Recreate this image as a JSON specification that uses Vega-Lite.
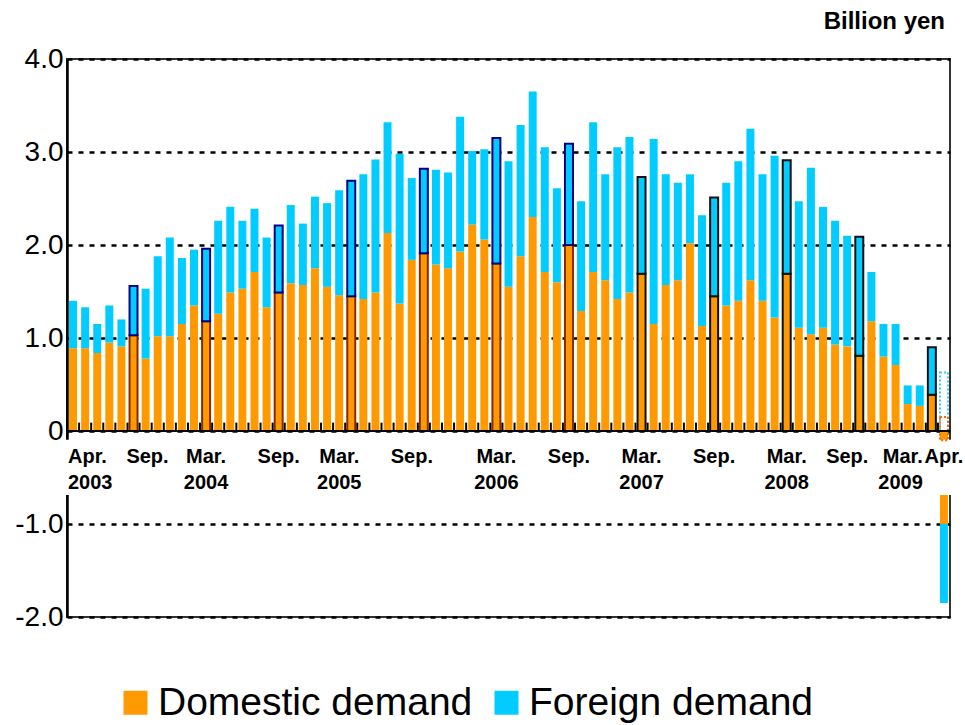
{
"$schema": "https://vega.github.io/schema/vega-lite/v6.json",
"autosize": "none",
"width": 883,
"height": 558,
"padding": {"left": 67, "top": 59, "right": 15, "bottom": 108},
"title": {"text": "Billion yen", "anchor": "end", "frame": "group", "fontSize": 24, "fontWeight": "bold", "font": "Liberation Sans", "baseline": "alphabetic", "offset": -8, "dx": -5, "color": "black"},
"config": {"font": "Liberation Sans", "view": {"stroke": "#333333", "strokeWidth": 2}},
"datasets": {
"main": [
{"month":"2003-04","series":"Domestic demand","value":0.89},{"month":"2003-04","series":"Foreign demand","value":0.51},
{"month":"2003-05","series":"Domestic demand","value":0.89},{"month":"2003-05","series":"Foreign demand","value":0.44},
{"month":"2003-06","series":"Domestic demand","value":0.84},{"month":"2003-06","series":"Foreign demand","value":0.31},
{"month":"2003-07","series":"Domestic demand","value":0.95},{"month":"2003-07","series":"Foreign demand","value":0.40},
{"month":"2003-08","series":"Domestic demand","value":0.91},{"month":"2003-08","series":"Foreign demand","value":0.29},
{"month":"2003-09","series":"Domestic demand","value":1.03},{"month":"2003-09","series":"Foreign demand","value":0.53},
{"month":"2003-10","series":"Domestic demand","value":0.78},{"month":"2003-10","series":"Foreign demand","value":0.75},
{"month":"2003-11","series":"Domestic demand","value":1.02},{"month":"2003-11","series":"Foreign demand","value":0.86},
{"month":"2003-12","series":"Domestic demand","value":1.02},{"month":"2003-12","series":"Foreign demand","value":1.06},
{"month":"2004-01","series":"Domestic demand","value":1.15},{"month":"2004-01","series":"Foreign demand","value":0.71},
{"month":"2004-02","series":"Domestic demand","value":1.35},{"month":"2004-02","series":"Foreign demand","value":0.60},
{"month":"2004-03","series":"Domestic demand","value":1.18},{"month":"2004-03","series":"Foreign demand","value":0.78},
{"month":"2004-04","series":"Domestic demand","value":1.26},{"month":"2004-04","series":"Foreign demand","value":1.00},
{"month":"2004-05","series":"Domestic demand","value":1.49},{"month":"2004-05","series":"Foreign demand","value":0.92},
{"month":"2004-06","series":"Domestic demand","value":1.53},{"month":"2004-06","series":"Foreign demand","value":0.73},
{"month":"2004-07","series":"Domestic demand","value":1.71},{"month":"2004-07","series":"Foreign demand","value":0.68},
{"month":"2004-08","series":"Domestic demand","value":1.33},{"month":"2004-08","series":"Foreign demand","value":0.75},
{"month":"2004-09","series":"Domestic demand","value":1.49},{"month":"2004-09","series":"Foreign demand","value":0.72},
{"month":"2004-10","series":"Domestic demand","value":1.59},{"month":"2004-10","series":"Foreign demand","value":0.84},
{"month":"2004-11","series":"Domestic demand","value":1.57},{"month":"2004-11","series":"Foreign demand","value":0.66},
{"month":"2004-12","series":"Domestic demand","value":1.75},{"month":"2004-12","series":"Foreign demand","value":0.77},
{"month":"2005-01","series":"Domestic demand","value":1.55},{"month":"2005-01","series":"Foreign demand","value":0.90},
{"month":"2005-02","series":"Domestic demand","value":1.46},{"month":"2005-02","series":"Foreign demand","value":1.13},
{"month":"2005-03","series":"Domestic demand","value":1.45},{"month":"2005-03","series":"Foreign demand","value":1.24},
{"month":"2005-04","series":"Domestic demand","value":1.42},{"month":"2005-04","series":"Foreign demand","value":1.34},
{"month":"2005-05","series":"Domestic demand","value":1.49},{"month":"2005-05","series":"Foreign demand","value":1.43},
{"month":"2005-06","series":"Domestic demand","value":2.13},{"month":"2005-06","series":"Foreign demand","value":1.19},
{"month":"2005-07","series":"Domestic demand","value":1.37},{"month":"2005-07","series":"Foreign demand","value":1.61},
{"month":"2005-08","series":"Domestic demand","value":1.84},{"month":"2005-08","series":"Foreign demand","value":0.88},
{"month":"2005-09","series":"Domestic demand","value":1.91},{"month":"2005-09","series":"Foreign demand","value":0.91},
{"month":"2005-10","series":"Domestic demand","value":1.79},{"month":"2005-10","series":"Foreign demand","value":1.02},
{"month":"2005-11","series":"Domestic demand","value":1.75},{"month":"2005-11","series":"Foreign demand","value":1.03},
{"month":"2005-12","series":"Domestic demand","value":1.93},{"month":"2005-12","series":"Foreign demand","value":1.45},
{"month":"2006-01","series":"Domestic demand","value":2.22},{"month":"2006-01","series":"Foreign demand","value":0.79},
{"month":"2006-02","series":"Domestic demand","value":2.06},{"month":"2006-02","series":"Foreign demand","value":0.97},
{"month":"2006-03","series":"Domestic demand","value":1.80},{"month":"2006-03","series":"Foreign demand","value":1.35},
{"month":"2006-04","series":"Domestic demand","value":1.55},{"month":"2006-04","series":"Foreign demand","value":1.35},
{"month":"2006-05","series":"Domestic demand","value":1.88},{"month":"2006-05","series":"Foreign demand","value":1.41},
{"month":"2006-06","series":"Domestic demand","value":2.30},{"month":"2006-06","series":"Foreign demand","value":1.35},
{"month":"2006-07","series":"Domestic demand","value":1.71},{"month":"2006-07","series":"Foreign demand","value":1.34},
{"month":"2006-08","series":"Domestic demand","value":1.60},{"month":"2006-08","series":"Foreign demand","value":1.01},
{"month":"2006-09","series":"Domestic demand","value":2.00},{"month":"2006-09","series":"Foreign demand","value":1.09},
{"month":"2006-10","series":"Domestic demand","value":1.29},{"month":"2006-10","series":"Foreign demand","value":1.18},
{"month":"2006-11","series":"Domestic demand","value":1.71},{"month":"2006-11","series":"Foreign demand","value":1.61},
{"month":"2006-12","series":"Domestic demand","value":1.62},{"month":"2006-12","series":"Foreign demand","value":1.14},
{"month":"2007-01","series":"Domestic demand","value":1.42},{"month":"2007-01","series":"Foreign demand","value":1.63},
{"month":"2007-02","series":"Domestic demand","value":1.49},{"month":"2007-02","series":"Foreign demand","value":1.67},
{"month":"2007-03","series":"Domestic demand","value":1.69},{"month":"2007-03","series":"Foreign demand","value":1.04},
{"month":"2007-04","series":"Domestic demand","value":1.15},{"month":"2007-04","series":"Foreign demand","value":1.99},
{"month":"2007-05","series":"Domestic demand","value":1.57},{"month":"2007-05","series":"Foreign demand","value":1.19},
{"month":"2007-06","series":"Domestic demand","value":1.62},{"month":"2007-06","series":"Foreign demand","value":1.05},
{"month":"2007-07","series":"Domestic demand","value":2.02},{"month":"2007-07","series":"Foreign demand","value":0.74},
{"month":"2007-08","series":"Domestic demand","value":1.13},{"month":"2007-08","series":"Foreign demand","value":1.19},
{"month":"2007-09","series":"Domestic demand","value":1.45},{"month":"2007-09","series":"Foreign demand","value":1.06},
{"month":"2007-10","series":"Domestic demand","value":1.35},{"month":"2007-10","series":"Foreign demand","value":1.32},
{"month":"2007-11","series":"Domestic demand","value":1.40},{"month":"2007-11","series":"Foreign demand","value":1.50},
{"month":"2007-12","series":"Domestic demand","value":1.62},{"month":"2007-12","series":"Foreign demand","value":1.63},
{"month":"2008-01","series":"Domestic demand","value":1.40},{"month":"2008-01","series":"Foreign demand","value":1.36},
{"month":"2008-02","series":"Domestic demand","value":1.22},{"month":"2008-02","series":"Foreign demand","value":1.74},
{"month":"2008-03","series":"Domestic demand","value":1.69},{"month":"2008-03","series":"Foreign demand","value":1.22},
{"month":"2008-04","series":"Domestic demand","value":1.11},{"month":"2008-04","series":"Foreign demand","value":1.36},
{"month":"2008-05","series":"Domestic demand","value":1.04},{"month":"2008-05","series":"Foreign demand","value":1.79},
{"month":"2008-06","series":"Domestic demand","value":1.11},{"month":"2008-06","series":"Foreign demand","value":1.30},
{"month":"2008-07","series":"Domestic demand","value":0.93},{"month":"2008-07","series":"Foreign demand","value":1.33},
{"month":"2008-08","series":"Domestic demand","value":0.91},{"month":"2008-08","series":"Foreign demand","value":1.19},
{"month":"2008-09","series":"Domestic demand","value":0.81},{"month":"2008-09","series":"Foreign demand","value":1.28},
{"month":"2008-10","series":"Domestic demand","value":1.18},{"month":"2008-10","series":"Foreign demand","value":0.53},
{"month":"2008-11","series":"Domestic demand","value":0.80},{"month":"2008-11","series":"Foreign demand","value":0.35},
{"month":"2008-12","series":"Domestic demand","value":0.71},{"month":"2008-12","series":"Foreign demand","value":0.44},
{"month":"2009-01","series":"Domestic demand","value":0.29},{"month":"2009-01","series":"Foreign demand","value":0.20},
{"month":"2009-02","series":"Domestic demand","value":0.27},{"month":"2009-02","series":"Foreign demand","value":0.22},
{"month":"2009-03","series":"Domestic demand","value":0.39},{"month":"2009-03","series":"Foreign demand","value":0.51},
{"month":"2009-04","series":"Domestic demand","value":-1.00},{"month":"2009-04","series":"Foreign demand","value":-0.85}
],
"prelim": [
{"month":"2009-04","series":"Foreign demand","low":0.0,"high":0.63},
{"month":"2009-04","series":"Domestic demand","low":-0.1,"high":0.15}
],
"labels": [
{"month":"2003-04","label":["Apr.","2003"]},
{"month":"2003-09","label":["Sep."]},
{"month":"2004-03","label":["Mar.","2004"]},
{"month":"2004-09","label":["Sep."]},
{"month":"2005-03","label":["Mar.","2005"]},
{"month":"2005-09","label":["Sep."]},
{"month":"2006-03","label":["Mar.","2006"]},
{"month":"2006-09","label":["Sep."]},
{"month":"2007-03","label":["Mar.","2007"]},
{"month":"2007-09","label":["Sep."]},
{"month":"2008-03","label":["Mar.","2008"]},
{"month":"2008-09","label":["Sep."]},
{"month":"2009-03","label":["Mar.","2009"]},
{"month":"2009-04","label":["Apr."]}
]
},
"layer": [
{
"data": {"name": "main"},
"mark": {"type": "bar", "width": {"band": 0.66}, "strokeWidth": 2},
"encoding": {
"x": {"field": "month", "type": "ordinal", "scale": {"paddingInner": 0, "paddingOuter": 0}, "axis": null},
"y": {"field": "value", "type": "quantitative", "stack": "zero", "scale": {"domain": [-2, 4], "nice": false, "zero": false},
"axis": {"values": [-2, -1, 0, 1, 2, 3, 4], "labelExpr": "datum.value == 0 ? '0' : (datum.value < 0 ? '-' + format(-datum.value, '.1f') : format(datum.value, '.1f'))", "title": null, "labelFont": "Liberation Sans", "labelFontSize": 28, "labelColor": "black", "labelPadding": 4, "ticks": false, "domain": true, "domainColor": "black", "domainWidth": 2.5, "grid": true, "gridColor": "black", "gridDash": [5, 6], "gridWidth": 2.5, "gridOpacity": 1}},
"color": {"field": "series", "type": "nominal", "scale": {"domain": ["Domestic demand", "Foreign demand"], "range": ["#FF9900", "#00CCFF"]},
"legend": {"orient": "none", "legendX": 49, "legendY": 624, "direction": "horizontal", "title": null, "symbolType": "square", "symbolSize": 576, "symbolStrokeWidth": 0, "symbolOpacity": 1, "labelFont": "Liberation Sans", "labelFontSize": 39, "labelColor": "black", "labelOffset": 3, "columnPadding": 14, "padding": 0, "labelLimit": 0}},
"order": {"field": "series", "sort": "ascending"},
"stroke": {"condition": [
{"test": "(substring(datum.month,5,7) == '03' || substring(datum.month,5,7) == '09') && datum.month < '2007' && datum.series == 'Foreign demand'", "value": "#000080"},
{"test": "(substring(datum.month,5,7) == '03' || substring(datum.month,5,7) == '09') && datum.month < '2007'", "value": "#8B2A00"},
{"test": "substring(datum.month,5,7) == '03' || substring(datum.month,5,7) == '09'", "value": "#111111"}
], "value": "transparent"}
}
},
{
"data": {"values": [{}]},
"mark": {"type": "rect", "fill": "white", "stroke": "white", "strokeWidth": 5},
"encoding": {"y": {"datum": -0.12}, "y2": {"datum": -0.66}}
},
{
"data": {"name": "prelim"},
"mark": {"type": "bar", "width": {"band": 0.66}, "filled": false, "strokeWidth": 2, "strokeDash": [2, 2]},
"encoding": {
"x": {"field": "month", "type": "ordinal"},
"y": {"field": "low", "type": "quantitative"},
"y2": {"field": "high"},
"stroke": {"field": "series", "type": "nominal", "scale": {"domain": ["Domestic demand", "Foreign demand"], "range": ["#FF6600", "#33CCFF"]}, "legend": null}
}
},
{
"data": {"values": [{}]},
"mark": {"type": "rule", "color": "black", "strokeWidth": 2},
"encoding": {"y": {"datum": 0}}
},
{
"data": {"name": "main"},
"transform": [{"filter": "datum.series == 'Domestic demand'"}],
"mark": {"type": "rule", "color": "black", "strokeWidth": 2},
"encoding": {"x": {"field": "month", "type": "ordinal", "bandPosition": 0}, "y": {"datum": 0}, "y2": {"datum": 0.09}}
},
{
"data": {"name": "labels"},
"transform": [{"filter": "indexof(['2003-04','2003-09','2005-03','2005-09','2008-09','2009-03'], datum.month) < 0"}],
"mark": {"type": "text", "font": "Liberation Sans", "fontSize": 20, "fontWeight": "bold", "baseline": "alphabetic", "lineHeight": 26, "align": "center", "color": "black"},
"encoding": {"x": {"field": "month", "type": "ordinal"}, "y": {"datum": -0.344}, "text": {"field": "label"}}
},
{
"data": {"name": "labels"},
"transform": [{"filter": "datum.month == '2003-09'"}],
"mark": {"type": "text", "font": "Liberation Sans", "fontSize": 20, "fontWeight": "bold", "baseline": "alphabetic", "lineHeight": 26, "align": "center", "dx": 14, "color": "black"},
"encoding": {"x": {"field": "month", "type": "ordinal"}, "y": {"datum": -0.344}, "text": {"field": "label"}}
},
{
"data": {"name": "labels"},
"transform": [{"filter": "indexof(['2005-03','2005-09','2008-09'], datum.month) >= 0"}],
"mark": {"type": "text", "font": "Liberation Sans", "fontSize": 20, "fontWeight": "bold", "baseline": "alphabetic", "lineHeight": 26, "align": "center", "dx": -12, "color": "black"},
"encoding": {"x": {"field": "month", "type": "ordinal"}, "y": {"datum": -0.344}, "text": {"field": "label"}}
},
{
"data": {"name": "labels"},
"transform": [{"filter": "datum.month == '2003-04'"}],
"mark": {"type": "text", "font": "Liberation Sans", "fontSize": 20, "fontWeight": "bold", "baseline": "alphabetic", "lineHeight": 26, "align": "left", "dx": 1, "color": "black"},
"encoding": {"x": {"field": "month", "type": "ordinal", "bandPosition": 0}, "y": {"datum": -0.344}, "text": {"field": "label"}}
},
{
"data": {"name": "labels"},
"transform": [{"filter": "datum.month == '2009-03'"}],
"mark": {"type": "text", "font": "Liberation Sans", "fontSize": 20, "fontWeight": "bold", "baseline": "alphabetic", "lineHeight": 26, "align": "right", "dx": -9, "color": "black"},
"encoding": {"x": {"field": "month", "type": "ordinal"}, "y": {"datum": -0.344}, "text": {"field": "label"}}
}
]
}
